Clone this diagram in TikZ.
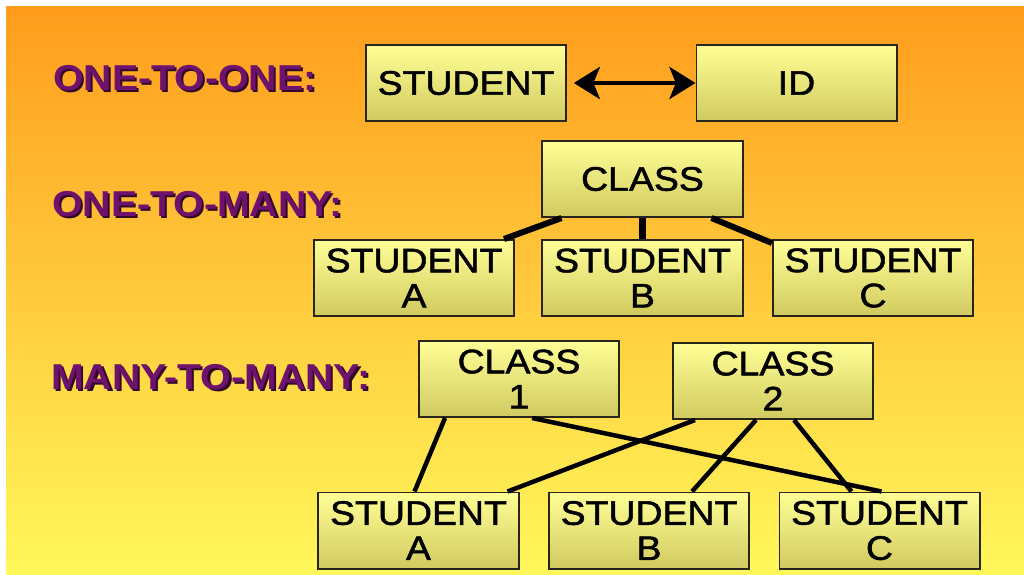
\documentclass[tikz,border=0pt]{standalone}
\usepackage{fontspec}
\setmainfont{Liberation Sans}
\newfontfamily\boxfont[FakeStretch=1.1, FakeBold=1.5]{Liberation Sans}
\newfontfamily\labelfont[FakeStretch=1.09]{Liberation Sans}
\usetikzlibrary{positioning, arrows.meta}

\definecolor{bgtop}{RGB}{255,156,28}
\definecolor{bgbottom}{RGB}{255,248,92}
\definecolor{boxtop}{RGB}{255,255,150}
\definecolor{boxbottom}{RGB}{208,202,96}
\definecolor{boxline}{RGB}{40,36,30}
\definecolor{labelpurple}{RGB}{110,18,110}
\definecolor{labelshadow}{RGB}{50,8,40}

\newcommand{\rowtext}[1]{\makebox[0pt][l]{\raisebox{-1.5pt}{\hspace{1.5pt}\textcolor{labelshadow}{#1}}}\textcolor{labelpurple}{#1}}

\begin{document}
\begin{tikzpicture}[x=0.025cm, y=-0.025cm,
    entity/.style={rectangle, draw=boxline, line width=1.4pt, top color=boxtop, bottom color=boxbottom,
                   minimum width=5cm, minimum height=1.9cm, inner sep=0pt, align=center,
                   font=\boxfont\fontsize{24.2}{25}\selectfont},
    rowlabel/.style={anchor=west, inner sep=0pt, font=\labelfont\bfseries\fontsize{25.6}{27}\selectfont},
    link/.style={line width=3.2pt, draw=black}]

  % Background
  \useasboundingbox (0,0) rectangle (1024,574);
  \fill[white] (0,0) rectangle (1024,574);
  \shade[top color=bgtop, bottom color=bgbottom] (6,6) rectangle (1024,574);

  % Row 1 - one to one
  \begin{scope}
    \node[rowlabel] (lone) at (53,79) {\rowtext{ONE-TO-ONE:}};
    \node[entity] (stu) at (466,83) {STUDENT};
    \node[entity] (id) at (796.5,83) {ID};
    \draw[link, line width=3.4pt, {Stealth[length=0.65cm,width=0.8cm,inset=0.16cm]}-{Stealth[length=0.65cm,width=0.8cm,inset=0.16cm]},
          shorten <=0.17cm] (stu.east) -- (id.west);
  \end{scope}

  % Row 2 - one to many
  \begin{scope}
    \node[rowlabel] (lmany) at (52,205) {\rowtext{ONE-TO-MANY:}};
    \node[entity] (cls) at (642.5,179) {CLASS};
    \node[entity] (sa) at (414,278) {STUDENT\\A};
    \node[entity] (sb) at (642.5,278) {STUDENT\\B};
    \node[entity] (sc) at (873,278) {STUDENT\\C};
    \draw[link, line width=4.3pt] ([xshift=0.5cm]cls.south west) -- ([xshift=-0.275cm]sa.north east);
    \draw[link, line width=4.3pt] (cls.south) -- (sb.north);
    \draw[link, line width=4.3pt] ([xshift=-0.8cm]cls.south east) -- ([yshift=-0.1cm]sc.north west);
  \end{scope}

  % Row 3 - many to many
  \begin{scope}
    \node[rowlabel] (lmm) at (51,378) {\rowtext{MANY-TO-MANY:}};
    \node[entity] (cone) at (519,379) {CLASS\\1};
    \node[entity] (ctwo) at (773,381) {CLASS\\2};
    \node[entity] (ma) at (418.5,530.5) {STUDENT\\A};
    \node[entity] (mb) at (649,530.5) {STUDENT\\B};
    \node[entity] (mc) at (879.5,530.5) {STUDENT\\C};
    \draw[link] ([xshift=0.675cm]cone.south west) -- ([xshift=-0.1cm]ma.north);
    \draw[link] ([xshift=0.325cm]cone.south) -- ([xshift=0.05cm]mc.north);
    \draw[link] ([xshift=0.575cm]ctwo.south west) -- ([xshift=-0.3cm]ma.north east);
    \draw[link] ([xshift=-0.425cm]ctwo.south) -- ([xshift=1.075cm]mb.north);
    \draw[link] ([xshift=0.525cm]ctwo.south) -- ([xshift=-0.7cm]mc.north);
  \end{scope}

\end{tikzpicture}
\end{document}
